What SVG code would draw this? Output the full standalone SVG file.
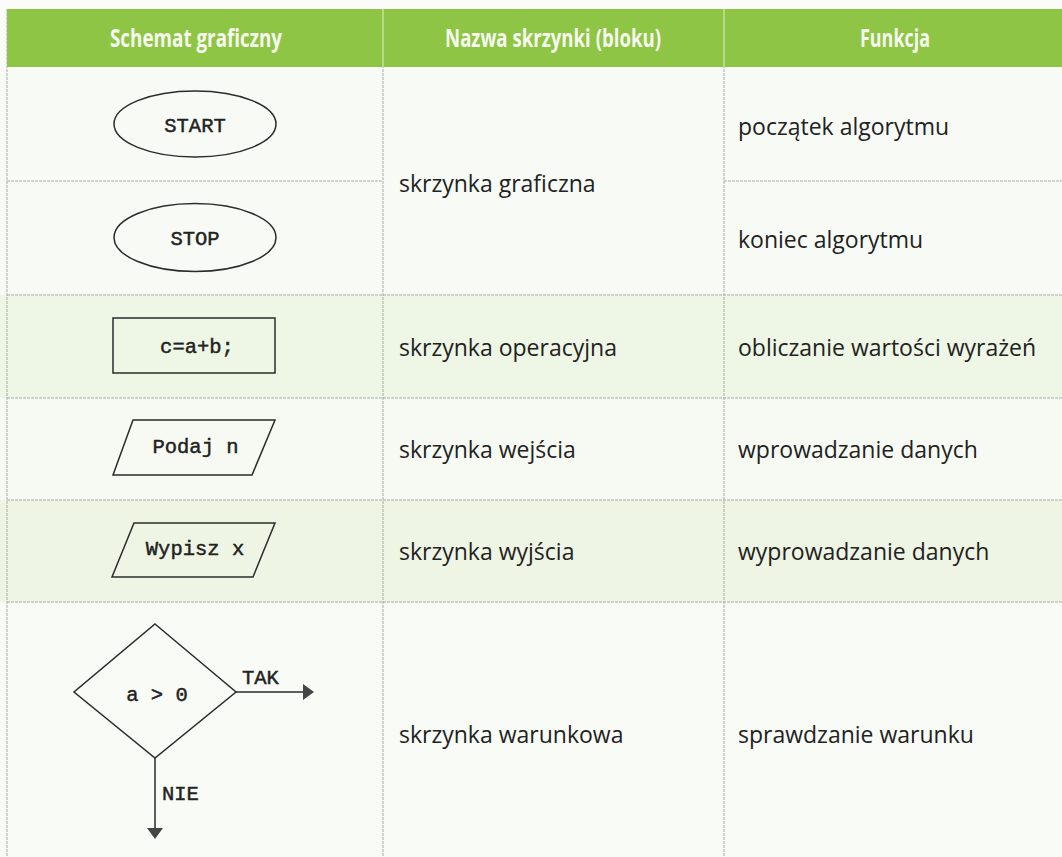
<svg xmlns="http://www.w3.org/2000/svg" width="1062" height="857" viewBox="0 0 1062 857">
  <style>
    .hdr { font-family: "Open Sans", "Liberation Sans", sans-serif; font-weight: bold; font-size: 25px; fill: #f6faee; text-anchor: middle; }
    .body { font-family: "Open Sans", "Liberation Sans", sans-serif; font-size: 23px; fill: #222; }
    .mono { font-family: "Liberation Mono", "Courier New", monospace; font-size: 20.5px; fill: #222; stroke: #222; stroke-width: 0.45; text-anchor: middle; }
    .monol { font-family: "Liberation Mono", "Courier New", monospace; font-size: 20.5px; fill: #222; stroke: #222; stroke-width: 0.45; }
    .shape { fill: none; stroke: #2b2b2b; stroke-width: 1.5; }
    .grid { stroke: #a9aca6; stroke-width: 1; stroke-dasharray: 3 1; fill: none; }
    .head { fill: #444; stroke: none; }
  </style>

  <!-- page background and row bands -->
  <rect x="0" y="0" width="1062" height="857" fill="#fbfcf9"/>
  <rect x="0" y="67" width="1062" height="228" fill="#f8fbf5"/>
  <rect x="0" y="295" width="1062" height="103" fill="#eef6e5"/>
  <rect x="0" y="398" width="1062" height="102" fill="#f7faf3"/>
  <rect x="0" y="500" width="1062" height="102" fill="#eef5e4"/>
  <rect x="0" y="602" width="1062" height="255" fill="#f8fbf6"/>

  <!-- table grid -->
  <g id="grid">
    <line class="grid" x1="7" y1="9" x2="7" y2="857"/>
    <line class="grid" x1="383" y1="9" x2="383" y2="857"/>
    <line class="grid" x1="724" y1="9" x2="724" y2="857"/>
    <line class="grid" x1="7" y1="181" x2="383" y2="181"/>
    <line class="grid" x1="724" y1="181" x2="1062" y2="181"/>
    <line class="grid" x1="7" y1="295" x2="1062" y2="295"/>
    <line class="grid" x1="7" y1="398" x2="1062" y2="398"/>
    <line class="grid" x1="7" y1="500" x2="1062" y2="500"/>
    <line class="grid" x1="7" y1="602" x2="1062" y2="602"/>
  </g>

  <!-- header band -->
  <g id="header">
    <rect x="7" y="9" width="1055" height="58" fill="#8fc545"/>
    <line x1="383" y1="9" x2="383" y2="67" stroke="#c6e19d" stroke-width="1.5"/>
    <line x1="724" y1="9" x2="724" y2="67" stroke="#c6e19d" stroke-width="1.5"/>
    <text class="hdr" x="196" y="47" textLength="172" lengthAdjust="spacingAndGlyphs">Schemat graficzny</text>
    <text class="hdr" x="553" y="47" textLength="216" lengthAdjust="spacingAndGlyphs">Nazwa skrzynki (bloku)</text>
    <text class="hdr" x="895" y="47" textLength="70" lengthAdjust="spacingAndGlyphs">Funkcja</text>
  </g>

  <!-- flowchart symbols -->
  <g id="start">
    <ellipse class="shape" cx="195" cy="124" rx="81" ry="33"/>
    <text class="mono" x="195" y="132">START</text>
  </g>
  <g id="stop">
    <ellipse class="shape" cx="195" cy="237.5" rx="81" ry="34"/>
    <text class="mono" x="195" y="245">STOP</text>
  </g>
  <g id="operation">
    <rect class="shape" x="113" y="318" width="162" height="55"/>
    <text class="mono" x="197" y="353">c=a+b;</text>
  </g>
  <g id="input">
    <polygon class="shape" points="133,420 275,420 252,475 113,475"/>
    <text class="mono" x="195.5" y="453">Podaj n</text>
  </g>
  <g id="output">
    <polygon class="shape" points="134,523 275,523 253,577 112,577"/>
    <text class="mono" x="195" y="555">Wypisz x</text>
  </g>
  <g id="decision">
    <polygon class="shape" points="155,624 236,692 155,758 74,692"/>
    <text class="mono" x="157" y="701">a &gt; 0</text>
    <text class="monol" x="242" y="684">TAK</text>
    <text class="monol" x="162" y="800">NIE</text>
  </g>

  <!-- branch connectors -->
  <g id="connectors">
    <line class="shape" x1="236" y1="692" x2="304" y2="692"/>
    <polygon class="head" points="303,684 314,692 303,700"/>
    <line class="shape" x1="155" y1="758" x2="155" y2="829"/>
    <polygon class="head" points="147,828 163,828 155,839"/>
  </g>

  <!-- name column -->
  <g id="names">
    <text class="body" x="399" y="192">skrzynka graficzna</text>
    <text class="body" x="399" y="356">skrzynka operacyjna</text>
    <text class="body" x="399" y="458">skrzynka wejścia</text>
    <text class="body" x="399" y="560">skrzynka wyjścia</text>
    <text class="body" x="399" y="743">skrzynka warunkowa</text>
  </g>

  <!-- function column -->
  <g id="functions">
    <text class="body" x="738" y="135">początek algorytmu</text>
    <text class="body" x="738" y="248">koniec algorytmu</text>
    <text class="body" x="738" y="356">obliczanie wartości wyrażeń</text>
    <text class="body" x="738" y="458">wprowadzanie danych</text>
    <text class="body" x="738" y="560">wyprowadzanie danych</text>
    <text class="body" x="738" y="743">sprawdzanie warunku</text>
  </g>
</svg>
